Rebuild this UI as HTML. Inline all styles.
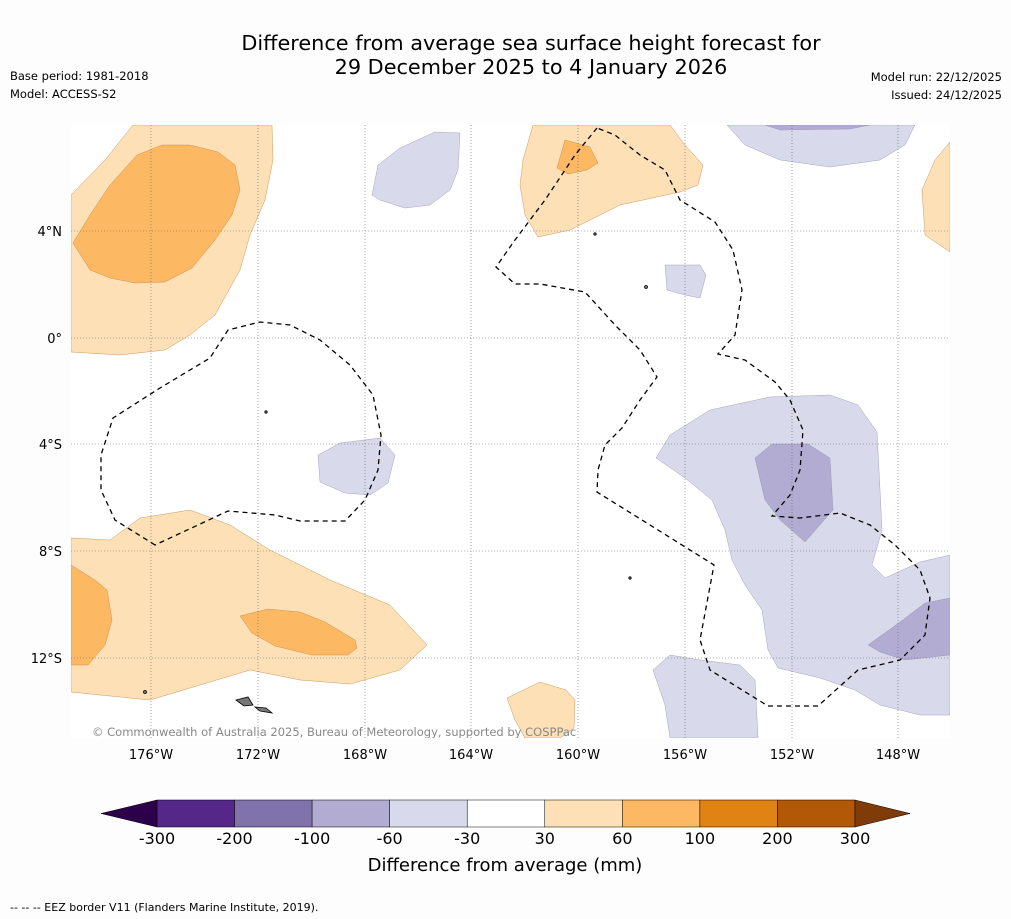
<!DOCTYPE html>
<html><head><meta charset="utf-8"><style>
body{margin:0;background:#fff;width:1011px;height:919px;overflow:hidden;font-family:"DejaVu Sans",sans-serif}
svg{position:absolute;left:0;top:0}
</style></head><body>
<svg width="1011" height="919" font-family="DejaVu Sans, sans-serif">
<rect width="1011" height="919" fill="#fdfdfd"/>
<text x="531" y="50" text-anchor="middle" font-size="20.8">Difference from average sea surface height forecast for</text>
<text x="531" y="74" text-anchor="middle" font-size="20.8">29 December 2025 to 4 January 2026</text>
<text x="10" y="80" font-size="11.5">Base period: 1981-2018</text>
<text x="10" y="98" font-size="11.5">Model: ACCESS-S2</text>
<text x="1002" y="81" font-size="11.5" text-anchor="end">Model run: 22/12/2025</text>
<text x="1002" y="99" font-size="11.5" text-anchor="end">Issued: 24/12/2025</text>
<defs><clipPath id="map"><rect x="71" y="125" width="879" height="613"/></clipPath></defs>
<g clip-path="url(#map)">
<rect x="71" y="125" width="879" height="613" fill="#fff"/>
<g stroke="#c08040" stroke-width="0.4">
<path fill="#fee0b6" d="M71,195 L105,160 L133,125 L272,125 L273,160 L265,200 L250,235 L240,270 L215,315 L190,335 L165,350 L120,355 L71,352Z"/>
<path fill="#fdb863" d="M73,243 L90,215 L110,185 L137,155 L162,145 L190,145 L218,152 L235,165 L240,190 L232,215 L215,240 L192,268 L165,282 L135,283 L110,278 L90,270Z"/>
<path fill="#fee0b6" d="M533,125 L670,125 L685,145 L703,165 L698,185 L680,192 L620,205 L570,230 L538,237 L525,215 L520,185 L523,160Z"/>
<path fill="#fdb863" d="M565,140 L590,147 L598,163 L587,170 L568,174 L557,168Z"/>
<path fill="#fee0b6" d="M950,142 L935,160 L922,190 L925,235 L950,252Z"/>
<path fill="#fee0b6" d="M71,538 L110,540 L140,518 L190,510 L230,525 L270,550 L330,580 L390,605 L427,645 L400,670 L350,684 L300,680 L250,670 L200,685 L150,700 L100,695 L71,692Z"/>
<path fill="#fdb863" d="M71,565 L95,580 L107,590 L112,620 L105,645 L88,665 L71,665Z"/>
<path fill="#fdb863" d="M240,616 L268,609 L300,612 L325,622 L355,640 L357,648 L348,655 L312,655 L275,646 L252,633Z"/>
<path fill="#fee0b6" d="M507,698 L540,682 L566,690 L575,700 L574,728 L560,738 L525,738 L515,720Z"/>
</g>
<g stroke="#9090b0" stroke-width="0.4">
<path fill="#d8daeb" d="M372,195 L378,165 L400,148 L435,132 L460,133 L458,170 L450,190 L430,205 L405,208 L380,200Z"/>
<path fill="#d8daeb" d="M727,125 L915,125 L905,145 L880,160 L830,167 L780,160 L745,145Z"/>
<path fill="#b2abd2" d="M765,125 L870,125 L850,129 L780,130Z"/>
<path fill="#d8daeb" d="M665,265 L700,265 L706,275 L700,298 L685,295 L667,290Z"/>
<path fill="#d8daeb" d="M318,455 L340,443 L380,438 L395,455 L388,483 L370,495 L345,493 L320,482Z"/>
<path fill="#d8daeb" d="M656,458 L670,435 L710,410 L770,397 L830,395 L858,405 L877,432 L880,490 L882,530 L872,565 L885,578 L920,562 L950,555 L950,715 L920,715 L880,705 L855,690 L820,678 L778,668 L768,650 L762,610 L745,585 L732,560 L725,530 L712,500 L685,478Z"/>
<path fill="#b2abd2" d="M755,458 L772,444 L808,444 L830,458 L833,510 L805,542 L780,520 L765,500Z"/>
<path fill="#b2abd2" d="M868,645 L900,622 L925,603 L950,598 L950,655 L905,660 L880,652Z"/>
<path fill="#d8daeb" d="M653,670 L670,655 L700,660 L740,665 L755,680 L758,738 L670,738 L665,705Z"/>
</g>
<g stroke="#666" stroke-width="0.6" stroke-dasharray="1,2">
<line x1="151" y1="125" x2="151" y2="738"/><line x1="258" y1="125" x2="258" y2="738"/><line x1="365" y1="125" x2="365" y2="738"/><line x1="471" y1="125" x2="471" y2="738"/><line x1="578" y1="125" x2="578" y2="738"/><line x1="685" y1="125" x2="685" y2="738"/><line x1="792" y1="125" x2="792" y2="738"/><line x1="898" y1="125" x2="898" y2="738"/>
<line x1="71" y1="231" x2="950" y2="231"/><line x1="71" y1="338" x2="950" y2="338"/><line x1="71" y1="444" x2="950" y2="444"/><line x1="71" y1="551" x2="950" y2="551"/><line x1="71" y1="658" x2="950" y2="658"/>
</g>
<g fill="none" stroke="#000" stroke-width="1.3" stroke-dasharray="5,4">
<path d="M155,545 L115,520 L101,490 L101,455 L113,418 L160,388 L210,358 L228,330 L260,322 L290,325 L320,340 L350,365 L373,395 L381,435 L378,470 L365,500 L345,521 L300,521 L275,515 L228,511Z"/>
<path d="M597,128 L575,155 L545,200 L515,240 L496,267 L515,284 L540,284 L585,292 L615,325 L640,350 L657,377 L640,400 L622,428 L605,445 L598,470 L597,492 L650,525 L714,565 L700,640 L710,670 L768,706 L818,706 L858,670 L900,660 L925,635 L930,598 L920,570 L895,545 L870,525 L840,513 L800,518 L772,516 L790,495 L800,470 L803,430 L790,400 L775,382 L745,360 L718,354 L735,335 L742,290 L733,250 L715,222 L680,200 L665,170 L640,155 L615,135Z"/>
</g>
<g fill="#777" stroke="#000" stroke-width="0.8">
<path d="M236,700 L248,697 L253,705 L244,706Z"/><path d="M255,707 L266,708 L272,713 L260,711Z"/>
<circle cx="145" cy="692" r="1.5"/><circle cx="266" cy="412" r="1.2"/><circle cx="646" cy="287" r="1.5"/><circle cx="630" cy="578" r="1.2"/><circle cx="595" cy="234" r="1.2"/>
</g>
<text x="92" y="736" font-size="11.5" fill="#888">© Commonwealth of Australia 2025, Bureau of Meteorology, supported by COSPPac</text>
</g>
<g font-size="13">
<text x="151" y="759" text-anchor="middle">176°W</text><text x="258" y="759" text-anchor="middle">172°W</text><text x="365" y="759" text-anchor="middle">168°W</text><text x="471" y="759" text-anchor="middle">164°W</text><text x="578" y="759" text-anchor="middle">160°W</text><text x="685" y="759" text-anchor="middle">156°W</text><text x="792" y="759" text-anchor="middle">152°W</text><text x="898" y="759" text-anchor="middle">148°W</text>
<text x="62" y="236" text-anchor="end">4°N</text><text x="62" y="343" text-anchor="end">0°</text><text x="62" y="449" text-anchor="end">4°S</text><text x="62" y="556" text-anchor="end">8°S</text><text x="62" y="663" text-anchor="end">12°S</text>
</g>
<g id="cbar"></g>
<text x="505" y="871" text-anchor="middle" font-size="18">Difference from average (mm)</text>
<text x="10" y="911" font-size="11">--  --  -- EEZ border V11 (Flanders Marine Institute, 2019).</text>
</svg>
<script>
const levels=[-300,-200,-100,-60,-30,30,60,100,200,300];
const colors=["#542788","#8073ac","#b2abd2","#d8daeb","#ffffff","#fee0b6","#fdb863","#e08214","#b35806"];
const g=document.getElementById('cbar');
const NS='http://www.w3.org/2000/svg';
const x0=157,x1=855,y0=800,h=27;
const sx=i=>x0+(x1-x0)*i/(levels.length-1);
function mk(t,a){const e=document.createElementNS(NS,t);for(const k in a)e.setAttribute(k,a[k]);g.appendChild(e);return e;}
colors.forEach((c,i)=>{const r=mk('rect',{x:sx(i),y:y0,width:sx(i+1)-sx(i),height:h,fill:c,stroke:'#000','stroke-width':0.5});

});
const tl=mk('polygon',{points:`${x0},${y0} ${x0-56},${y0+h/2} ${x0},${y0+h}`,fill:'#2d004b',stroke:'#000','stroke-width':0.5});


const tr=mk('polygon',{points:`${x1},${y0} ${x1+55},${y0+h/2} ${x1},${y0+h}`,fill:'#7f3b08',stroke:'#000','stroke-width':0.5});


levels.forEach((v,i)=>{const t=mk('text',{x:sx(i),y:844,'text-anchor':'middle','font-size':16});t.textContent=v;

});
</script>
</body></html>
